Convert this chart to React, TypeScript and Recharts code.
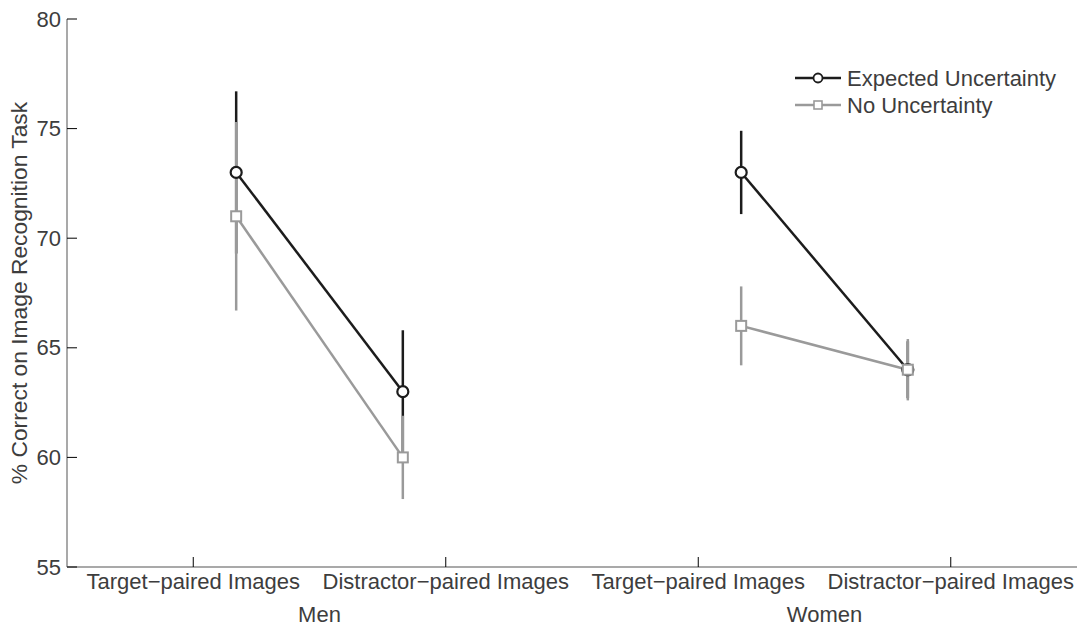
import { ComposedChart, Line, XAxis, YAxis, ErrorBar } from "recharts";

const categories = [
    "Target\u2212paired Images",
    "Distractor\u2212paired Images",
    "Target\u2212paired Images",
    "Distractor\u2212paired Images",
];
const groups = ["Men", "Women"];
const categoryTicks = [1, 2, 3, 4];
const groupTicks = [1.5, 3.5];
const pointX = [1.17, 1.83, 3.17, 3.83];

const expectedMean = [73, 63, 73, 64];
const expectedErr = [3.7, 2.8, 1.9, 1.3];
const noneMean = [71, 60, 66, 64];
const noneErr = [4.3, 1.9, 1.8, 1.4];

const yTicks = [55, 60, 65, 70, 75, 80];

const BLACK = "#1c1c1c";
const GRAY = "#9a9a9a";
const TEXT = "#3d3d3d";
const FONT = "'Liberation Sans', Arial, sans-serif";
const FS = 22;

// one small table per group so the two segments stay unconnected
const rows = (mean: number[], err: number[], idx: number[]) =>
    idx.map((i) => ({ x: pointX[i], y: mean[i], err: err[i] }));

const expMen = rows(expectedMean, expectedErr, [0, 1]);
const expWomen = rows(expectedMean, expectedErr, [2, 3]);
const noneMen = rows(noneMean, noneErr, [0, 1]);
const noneWomen = rows(noneMean, noneErr, [2, 3]);

const CircleDot = (props: any) => {
    const { cx, cy } = props;
    if (cx == null || cy == null) return null;
    return <circle cx={cx} cy={cy} r={5.5} fill="#fff" stroke={BLACK} strokeWidth={2.2} />;
};

const SquareDot = (props: any) => {
    const { cx, cy } = props;
    if (cx == null || cy == null) return null;
    return <rect x={cx - 5} y={cy - 5} width={10} height={10} fill="#fff" stroke={GRAY} strokeWidth={2} />;
};

const XTick = (props: any) => {
    const { x, y, payload, index } = props;
    return (
        <g>
            <line x1={x} y1={y} x2={x} y2={y - 10} stroke="#000" strokeWidth={1} />
            <text x={x} y={y + 22} textAnchor="middle" fill={TEXT} fontSize={FS} fontFamily={FONT}>
                {categories[index] ?? payload.value}
            </text>
        </g>
    );
};

const GroupTick = (props: any) => {
    const { x, y, index } = props;
    return (
        <text x={x} y={y + 23} textAnchor="middle" fill={TEXT} fontSize={FS} fontFamily={FONT}>
            {groups[index]}
        </text>
    );
};

const YTick = (props: any) => {
    const { x, y, payload } = props;
    return (
        <g>
            <line x1={x} y1={y} x2={x + 10} y2={y} stroke="#000" strokeWidth={1} />
            <text x={x - 6} y={y + 7.5} textAnchor="end" fill={TEXT} fontSize={FS} fontFamily={FONT}>
                {payload.value}
            </text>
        </g>
    );
};

const legendItems = [
    { name: "Expected Uncertainty", color: BLACK, marker: "circle" },
    { name: "No Uncertainty", color: GRAY, marker: "square" },
];

// legend sits over the plot, so keep it out of recharts' offset maths
const LegendBox = () => (
    <svg width={290} height={60} style={{ position: "absolute", left: 791, top: 64 }}>
        {legendItems.map((item, i) => {
            const cy = 14 + i * 27;
            return (
                <g key={item.name}>
                    <line x1={4} y1={cy} x2={50} y2={cy} stroke={item.color} strokeWidth={2.5} />
                    {item.marker === "circle" ? (
                        <circle cx={27} cy={cy} r={4.5} fill="#fff" stroke={item.color} strokeWidth={1.8} />
                    ) : (
                        <rect x={23} y={cy - 4} width={8} height={8} fill="#fff" stroke={item.color} strokeWidth={1.6} />
                    )}
                    <text x={56} y={cy + 7.5} fill={TEXT} fontSize={FS} fontFamily={FONT}>
                        {item.name}
                    </text>
                </g>
            );
        })}
    </svg>
);

export default function App() {
    return (
        <div style={{ position: "absolute", left: 0, top: 0, width: 1078, height: 626, background: "#fff" }}>
            <ComposedChart width={1078} height={626} margin={{ top: 19, right: 1, left: 0, bottom: 0 }}>
                <XAxis
                    type="number"
                    dataKey="x"
                    domain={[0.5, 4.5]}
                    ticks={categoryTicks}
                    height={32}
                    tickSize={0}
                    tickMargin={0}
                    tickLine={false}
                    tick={<XTick />}
                    axisLine={{ stroke: "#8c8c8c", strokeWidth: 1.5 }}
                    allowDataOverflow
                />
                <XAxis
                    xAxisId="group"
                    type="number"
                    dataKey="x"
                    domain={[0.5, 4.5]}
                    ticks={groupTicks}
                    height={27}
                    tickSize={0}
                    tickMargin={0}
                    tickLine={false}
                    axisLine={false}
                    tick={<GroupTick />}
                    allowDataOverflow
                />
                <YAxis
                    type="number"
                    domain={[55, 80]}
                    ticks={yTicks}
                    width={67}
                    tickSize={0}
                    tickMargin={0}
                    tickLine={false}
                    tick={<YTick />}
                    axisLine={{ stroke: "#8c8c8c", strokeWidth: 1.5 }}
                    allowDataOverflow
                    label={{
                        value: "% Correct on Image Recognition Task",
                        angle: -90,
                        position: "insideLeft",
                        dx: 14,
                        style: { fill: TEXT, fontSize: 22.8, fontFamily: FONT, textAnchor: "middle" },
                    }}
                />
                <Line data={expMen} dataKey="y" stroke={BLACK} strokeWidth={2.5} dot={<CircleDot />} activeDot={false} isAnimationActive={false} legendType="none">
                    <ErrorBar dataKey="err" direction="y" width={0} stroke={BLACK} strokeWidth={2.5} isAnimationActive={false} />
                </Line>
                <Line data={expWomen} dataKey="y" stroke={BLACK} strokeWidth={2.5} dot={<CircleDot />} activeDot={false} isAnimationActive={false} legendType="none">
                    <ErrorBar dataKey="err" direction="y" width={0} stroke={BLACK} strokeWidth={2.5} isAnimationActive={false} />
                </Line>
                <Line data={noneMen} dataKey="y" stroke={GRAY} strokeWidth={2.5} dot={<SquareDot />} activeDot={false} isAnimationActive={false} legendType="none">
                    <ErrorBar dataKey="err" direction="y" width={0} stroke={GRAY} strokeWidth={2.5} isAnimationActive={false} />
                </Line>
                <Line data={noneWomen} dataKey="y" stroke={GRAY} strokeWidth={2.5} dot={<SquareDot />} activeDot={false} isAnimationActive={false} legendType="none">
                    <ErrorBar dataKey="err" direction="y" width={0} stroke={GRAY} strokeWidth={2.5} isAnimationActive={false} />
                </Line>
            </ComposedChart>
            <LegendBox />
        </div>
    );
}
